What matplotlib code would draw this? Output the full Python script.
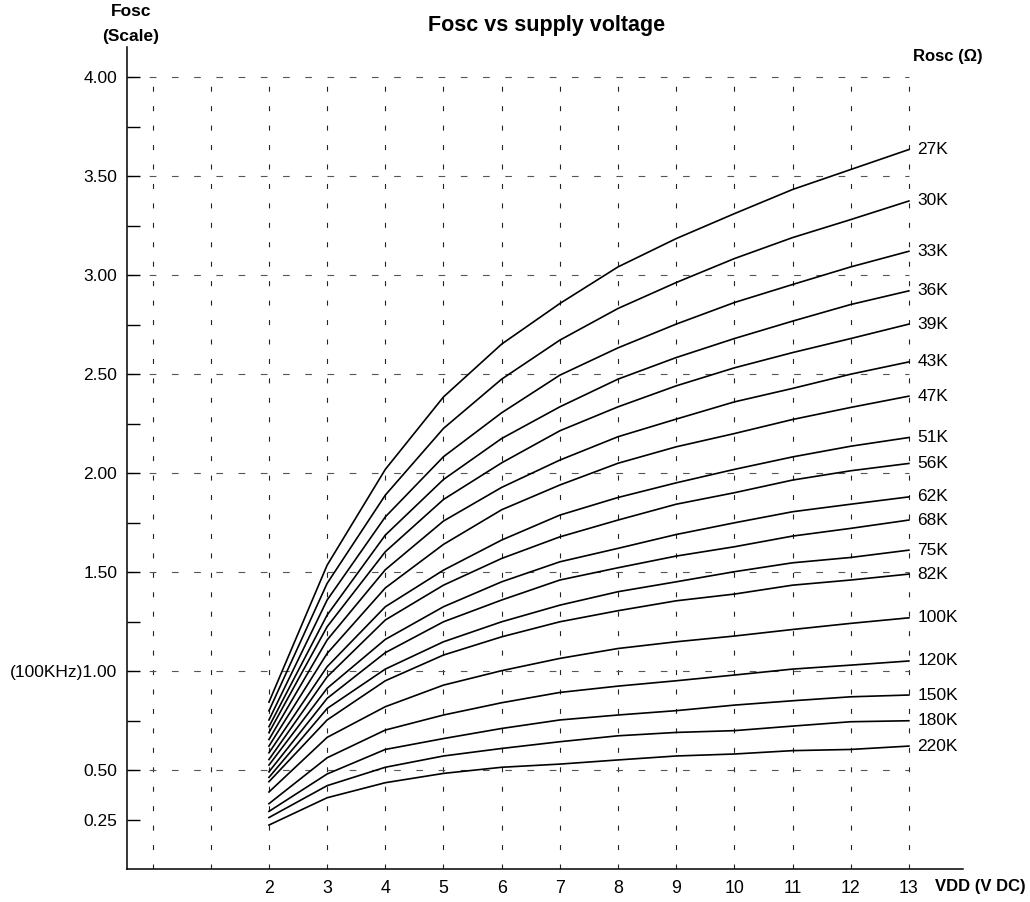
import numpy as np
import matplotlib
matplotlib.use('Agg')
import matplotlib.pyplot as plt

plt.rcParams['font.family'] = ['Liberation Sans', 'DejaVu Sans']

# supply voltage (V DC)
vdd = [2, 3, 4, 5, 6, 7, 8, 9, 10, 11, 12, 13]

rosc_labels = ['27K', '30K', '33K', '36K', '39K', '43K', '47K', '51K', '56K',
               '62K', '68K', '75K', '82K', '100K', '120K', '150K', '180K', '220K']

# Fosc (scale), one row per Rosc
f_27k = [0.843, 1.535, 2.019, 2.385, 2.652, 2.857, 3.042, 3.185, 3.311, 3.433, 3.534, 3.635]
f_30k = [0.799, 1.443, 1.889, 2.226, 2.475, 2.672, 2.832, 2.963, 3.084, 3.190, 3.281, 3.375]
f_33k = [0.753, 1.359, 1.779, 2.083, 2.305, 2.495, 2.633, 2.753, 2.862, 2.953, 3.042, 3.121]
f_36k = [0.719, 1.283, 1.687, 1.968, 2.175, 2.335, 2.475, 2.584, 2.680, 2.768, 2.852, 2.921]
f_39k = [0.689, 1.224, 1.603, 1.867, 2.052, 2.214, 2.335, 2.441, 2.532, 2.609, 2.680, 2.753]
f_43k = [0.654, 1.157, 1.512, 1.758, 1.928, 2.066, 2.184, 2.273, 2.360, 2.428, 2.500, 2.562]
f_47k = [0.621, 1.089, 1.420, 1.640, 1.815, 1.940, 2.050, 2.133, 2.200, 2.271, 2.332, 2.389]
f_51k = [0.587, 1.022, 1.325, 1.510, 1.662, 1.788, 1.877, 1.951, 2.019, 2.082, 2.136, 2.180]
f_56k = [0.553, 0.971, 1.258, 1.434, 1.569, 1.678, 1.763, 1.843, 1.901, 1.965, 2.012, 2.049]
f_62k = [0.525, 0.913, 1.160, 1.325, 1.451, 1.552, 1.620, 1.690, 1.749, 1.805, 1.843, 1.880]
f_68k = [0.491, 0.862, 1.093, 1.249, 1.359, 1.460, 1.522, 1.581, 1.628, 1.682, 1.721, 1.763]
f_75k = [0.463, 0.811, 1.010, 1.148, 1.249, 1.333, 1.401, 1.451, 1.502, 1.547, 1.574, 1.611]
f_82k = [0.441, 0.753, 0.951, 1.081, 1.173, 1.249, 1.305, 1.355, 1.389, 1.434, 1.460, 1.490]
f_100k = [0.389, 0.665, 0.820, 0.929, 1.002, 1.064, 1.114, 1.148, 1.177, 1.210, 1.241, 1.269]
f_120k = [0.330, 0.562, 0.702, 0.778, 0.840, 0.892, 0.924, 0.951, 0.980, 1.010, 1.030, 1.051]
f_150k = [0.291, 0.480, 0.604, 0.659, 0.710, 0.753, 0.778, 0.800, 0.828, 0.850, 0.870, 0.879]
f_180k = [0.260, 0.421, 0.514, 0.571, 0.609, 0.643, 0.673, 0.690, 0.699, 0.722, 0.744, 0.749]
f_220k = [0.222, 0.360, 0.436, 0.483, 0.514, 0.530, 0.551, 0.571, 0.581, 0.598, 0.604, 0.621]

curves = [f_27k, f_30k, f_33k, f_36k, f_39k, f_43k, f_47k, f_51k, f_56k,
          f_62k, f_68k, f_75k, f_82k, f_100k, f_120k, f_150k, f_180k, f_220k]

y_ticks = [0.25, 0.50, 0.75, 1.00, 1.25, 1.50, 1.75, 2.00, 2.25, 2.50, 2.75,
           3.00, 3.25, 3.50, 3.75, 4.00]
y_ticklabels = ['0.25', '0.50', '', '(100KHz)1.00', '', '1.50', '', '2.00', '',
                '2.50', '', '3.00', '', '3.50', '', '4.00']
grid_x = list(range(0, 14))
grid_y = [0.5, 1.0, 1.5, 2.0, 2.5, 3.0, 3.5, 4.0]

# ------------------------------------------
fig = plt.figure(figsize=(10.3, 9.02), dpi=100)
ax = fig.add_axes([127 / 1030, 33 / 902, 836 / 1030, 822 / 902])
ax.set_xlim(-0.44, 13.93)
ax.set_ylim(0, 4.153)

# dashed grid, only inside the 0..13 / 0..4 box
ax.vlines(grid_x, 0, 4.0, colors='#222222', linewidth=0.8,
          linestyles=(0, (4.5, 13)), zorder=1)
ax.hlines(grid_y, -0.44, 13, colors='#555555', linewidth=0.8,
          linestyles=(0, (6, 14)), zorder=1)

for vals, lab in zip(curves, rosc_labels):
    ax.plot(vdd, vals, color='black', linewidth=1.2, zorder=3)
    ax.text(13.15, vals[-1], lab, fontsize=12.5, va='center', ha='left')

ax.set_xticks(vdd)
ax.set_xticklabels([str(v) for v in vdd], fontsize=12.8)
ax.set_yticks(y_ticks)
ax.set_yticklabels(y_ticklabels, fontsize=12.5)
ax.tick_params(axis='x', length=0, pad=8)
ax.tick_params(axis='y', direction='in', length=9, width=1.0, pad=7)

ax.spines['top'].set_visible(False)
ax.spines['right'].set_visible(False)
ax.spines['left'].set_linewidth(1.1)
ax.spines['bottom'].set_linewidth(1.1)

fig.text(547 / 1030, 1 - 25 / 902, 'Fosc vs supply voltage', ha='center',
         va='center', fontsize=15.5, fontweight='bold')
fig.text(131 / 1030, 1 - 12 / 902, 'Fosc', ha='center', va='center',
         fontsize=12.5, fontweight='bold')
fig.text(131 / 1030, 1 - 37 / 902, '(Scale)', ha='center', va='center',
         fontsize=12.5, fontweight='bold')
fig.text(913 / 1030, 1 - 57 / 902, 'Rosc (\u03a9)', ha='left', va='center',
         fontsize=12, fontweight='bold')
fig.text(935 / 1030, 1 - 887 / 902, 'VDD (V DC)', ha='left', va='center',
         fontsize=12, fontweight='bold')

fig.savefig('out.png', dpi=100)
